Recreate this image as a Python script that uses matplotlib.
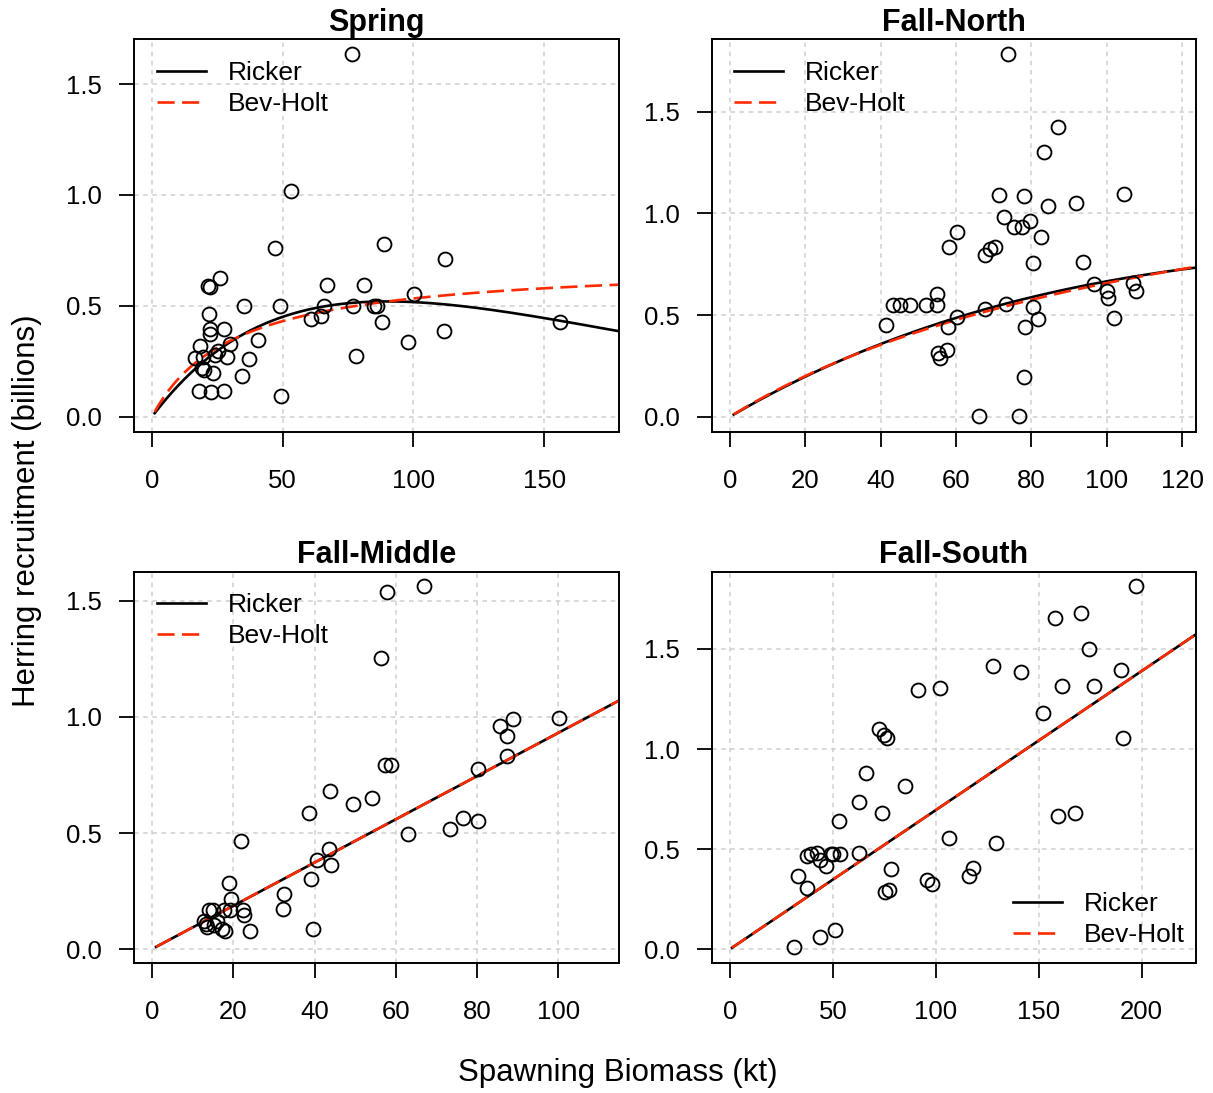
import numpy as np
import matplotlib
matplotlib.use("Agg")
import matplotlib.pyplot as plt
from matplotlib.lines import Line2D

plt.rcParams['font.family'] = ['Liberation Sans', 'DejaVu Sans']

# ---- data (biomass kt, recruitment billions) ----
spring_ssb = [76.4, 53.3, 47.1, 88.8, 112.2, 25.8, 21.3, 22.3, 67.1, 80.9,
              100.3, 35.2, 48.9, 65.9, 77.0, 84.8, 86.0, 21.9, 60.8, 64.7,
              87.9, 155.9, 111.6, 22.3, 27.4, 22.1, 40.4, 29.8, 98.0, 18.2,
              25.1, 24.1, 16.6, 19.6, 28.6, 37.2, 77.9, 19.0, 19.9, 23.2,
              34.3, 18.0, 22.4, 27.4, 49.2]
spring_rec = [1.634, 1.02, 0.763, 0.778, 0.709, 0.625, 0.589, 0.583, 0.593, 0.596,
              0.554, 0.498, 0.498, 0.50, 0.497, 0.497, 0.497, 0.465, 0.441, 0.456,
              0.429, 0.426, 0.387, 0.396, 0.396, 0.372, 0.345, 0.327, 0.336, 0.320,
              0.297, 0.278, 0.266, 0.270, 0.270, 0.258, 0.275, 0.218, 0.210, 0.198,
              0.183, 0.117, 0.111, 0.117, 0.095]

north_ssb = [73.9, 87.0, 83.4, 71.4, 78.1, 104.5, 91.9, 84.5, 72.7, 75.3,
             77.5, 79.6, 60.3, 82.5, 58.1, 70.3, 69.1, 67.8, 80.4, 93.6,
             96.5, 100.1, 100.4, 107.1, 107.9, 101.9, 55.0, 43.3, 45.0, 47.8,
             52.1, 55.0, 73.2, 80.4, 67.6, 60.3, 81.8, 41.4, 58.0, 78.2,
             57.7, 55.2, 55.8, 78.1, 66.0, 76.6]
north_rec = [1.784, 1.425, 1.303, 1.089, 1.085, 1.097, 1.049, 1.036, 0.982, 0.931,
             0.931, 0.962, 0.910, 0.885, 0.836, 0.836, 0.825, 0.795, 0.754, 0.759,
             0.651, 0.618, 0.585, 0.659, 0.618, 0.484, 0.603, 0.551, 0.551, 0.551,
             0.551, 0.551, 0.552, 0.539, 0.528, 0.489, 0.482, 0.452, 0.443, 0.443,
             0.328, 0.311, 0.287, 0.195, 0.002, 0.005]

middle_ssb = [66.9, 57.8, 56.3, 100.2, 88.9, 85.6, 87.4, 87.4, 80.1, 57.3,
              58.7, 43.8, 54.1, 49.5, 38.6, 76.5, 80.1, 73.4, 62.9, 21.9,
              43.6, 40.5, 44.1, 39.1, 32.4, 32.3, 39.6, 18.9, 19.4, 14.0,
              15.0, 17.6, 19.1, 22.4, 22.6, 24.2, 12.8, 13.2, 13.6, 15.3,
              17.3, 18.0, 16.0]
middle_rec = [1.565, 1.539, 1.256, 0.996, 0.991, 0.961, 0.920, 0.830, 0.774, 0.792,
              0.792, 0.681, 0.652, 0.625, 0.588, 0.565, 0.553, 0.516, 0.496, 0.466,
              0.432, 0.385, 0.362, 0.303, 0.239, 0.174, 0.086, 0.286, 0.214, 0.168,
              0.168, 0.168, 0.168, 0.168, 0.145, 0.078, 0.122, 0.108, 0.096, 0.103,
              0.086, 0.079, 0.121]

south_ssb = [197.4, 170.5, 157.7, 174.3, 127.8, 141.5, 161.3, 176.8, 91.3, 101.9,
             190.0, 152.1, 191.1, 72.4, 74.8, 76.4, 66.1, 85.0, 62.5, 73.7,
             53.0, 159.5, 167.6, 106.2, 129.1, 78.2, 117.9, 116.1, 95.9, 98.3,
             75.5, 77.4, 62.7, 37.6, 39.5, 42.4, 43.6, 46.8, 49.0, 50.0,
             53.4, 32.9, 37.4, 51.0, 43.9, 30.9]
south_rec = [1.815, 1.682, 1.653, 1.498, 1.413, 1.387, 1.317, 1.315, 1.297, 1.303,
             1.397, 1.182, 1.057, 1.098, 1.072, 1.057, 0.878, 0.813, 0.733, 0.680,
             0.640, 0.667, 0.678, 0.557, 0.528, 0.402, 0.407, 0.367, 0.345, 0.323,
             0.287, 0.295, 0.478, 0.463, 0.477, 0.480, 0.445, 0.417, 0.477, 0.477,
             0.477, 0.367, 0.303, 0.098, 0.063, 0.013]

# fitted model parameters: Ricker R = a*S*exp(-b*S), Bev-Holt R = a*S/(1+b*S)
ricker_a = [0.0157, 0.01087, 0.00932, 0.00695]
ricker_b = [1 / 90.0, 0.0049, 0.0, 0.0]
bh_a = [0.02245, 0.0115, 0.00932, 0.00695]
bh_b = [0.0321, 0.0075, 0.0, 0.0]

titles = ["Spring", "Fall-North", "Fall-Middle", "Fall-South"]
xs = [spring_ssb, north_ssb, middle_ssb, south_ssb]
ys = [spring_rec, north_rec, middle_rec, south_rec]
xticks = [[0, 50, 100, 150], [0, 20, 40, 60, 80, 100, 120],
          [0, 20, 40, 60, 80, 100], [0, 50, 100, 150, 200]]
yticks = [[0.0, 0.5, 1.0, 1.5]] * 4
xlims = [(-6.8, 178.6), (-4.86, 123.7), (-4.36, 114.9), (-8.9, 226.4)]
ylims = [(-0.068, 1.702), (-0.074, 1.856), (-0.059, 1.626), (-0.068, 1.886)]

W, H = 1213, 1093
fig = plt.figure(figsize=(W / 100, H / 100), dpi=100)
boxes = [(0.1107, 0.6050, 0.3996, 0.3590), (0.5867, 0.6050, 0.3993, 0.3590),
         (0.1107, 0.1192, 0.3996, 0.3577), (0.5867, 0.1192, 0.3993, 0.3577)]

fs = 18.5
red = '#ff2a00'
dash = (6.5, 2.8)
for i in range(4):
    ax = fig.add_axes(boxes[i])
    ax.set_xlim(xlims[i])
    ax.set_ylim(ylims[i])
    ax.set_xticks(xticks[i])
    ax.set_yticks(yticks[i])
    ax.set_yticklabels(["%.1f" % v for v in yticks[i]])
    ax.grid(True, color='#cfcfcf', linestyle=(0, (3, 3)), linewidth=1.1)
    ax.set_axisbelow(True)
    for sp in ax.spines.values():
        sp.set_linewidth(1.4)
    ax.tick_params(direction='out', length=11, width=1.3, labelsize=fs)
    ax.tick_params(axis='x', pad=16)
    ax.tick_params(axis='y', pad=12)

    s = np.linspace(1, xlims[i][1] + 5, 400)
    ax.plot(s, ricker_a[i] * s * np.exp(-ricker_b[i] * s), color='black', lw=1.9)
    ax.plot(s, bh_a[i] * s / (1 + bh_b[i] * s), color=red, lw=1.9, dashes=dash)
    ax.plot(xs[i], ys[i], 'o', mfc='none', mec='black', ms=10, mew=1.35)
    ax.set_title(titles[i], fontsize=22, fontweight='bold', pad=6)

    handles = [Line2D([], [], color='black', lw=1.9),
               Line2D([], [], color=red, lw=1.9, dashes=dash)]
    if i < 3:
        ax.legend(handles, ["Ricker", "Bev-Holt"], loc='upper left',
                  bbox_to_anchor=(0.047, 0.945), frameon=False, fontsize=19,
                  handlelength=1.85, handletextpad=0.83, labelspacing=0.26,
                  borderaxespad=0, borderpad=0)
    else:
        ax.legend(handles, ["Ricker", "Bev-Holt"], loc='lower left',
                  bbox_to_anchor=(0.623, 0.040), frameon=False, fontsize=19,
                  handlelength=1.85, handletextpad=0.83, labelspacing=0.26,
                  borderaxespad=0, borderpad=0)

fig.text(618 / W, 1 - 1073 / H, "Spawning Biomass (kt)", fontsize=22.5,
         ha='center', va='center')
fig.text(27 / W, 1 - 511 / H, "Herring recruitment (billions)", fontsize=22.5,
         ha='center', va='center', rotation=90)

fig.savefig("out.png", dpi=100)
